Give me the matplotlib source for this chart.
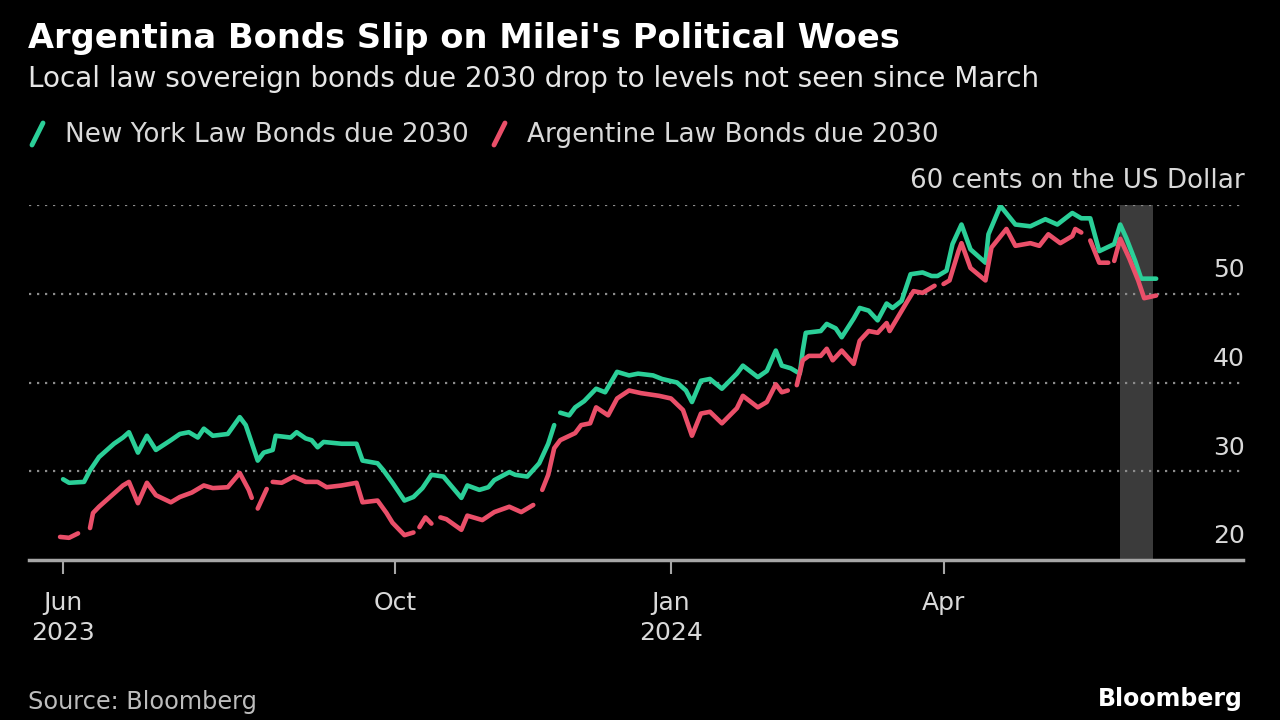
import matplotlib
matplotlib.use("Agg")
import matplotlib.pyplot as plt
import matplotlib.transforms as mtransforms
from matplotlib.lines import Line2D
import pandas as pd
import numpy as np

# ---------------- data ----------------
green_dates = [
    "2023-06-12", "2023-06-14", "2023-06-19", "2023-06-21", "2023-06-24", "2023-06-29",
    "2023-07-02", "2023-07-04", "2023-07-07", "2023-07-10", "2023-07-13", "2023-07-18",
    "2023-07-21", "2023-07-24", "2023-07-27", "2023-07-29", "2023-08-01", "2023-08-06",
    "2023-08-10", "2023-08-12", "2023-08-16", "2023-08-18", "2023-08-21", "2023-08-22",
    "2023-08-27", "2023-08-29", "2023-09-01", "2023-09-03", "2023-09-05", "2023-09-07",
    "2023-09-13", "2023-09-18", "2023-09-20", "2023-09-25", "2023-09-27", "2023-09-30",
    "2023-10-04", "2023-10-07", "2023-10-10", "2023-10-13", "2023-10-17", "2023-10-23",
    "2023-10-25", "2023-10-29", "2023-11-01", "2023-11-03", "2023-11-08", "2023-11-10",
    "2023-11-14", "2023-11-18", "2023-11-21", "2023-11-23", "2023-11-24", "2023-11-25",
    "2023-11-28", "2023-11-30", "2023-12-03", "2023-12-05", "2023-12-07", "2023-12-10",
    "2023-12-14", "2023-12-18", "2023-12-21", "2023-12-26", "2023-12-29", "2024-01-03",
    "2024-01-06", "2024-01-08", "2024-01-11", "2024-01-14", "2024-01-18", "2024-01-23",
    "2024-01-25", "2024-01-30", "2024-02-02", "2024-02-05", "2024-02-07", "2024-02-10",
    "2024-02-13", "2024-02-14", "2024-02-15", "2024-02-20", "2024-02-22", "2024-02-25",
    "2024-02-27", "2024-03-02", "2024-03-04", "2024-03-07", "2024-03-10", "2024-03-13",
    "2024-03-15", "2024-03-18", "2024-03-21", "2024-03-25", "2024-03-28", "2024-03-30",
    "2024-04-02", "2024-04-04", "2024-04-07", "2024-04-10", "2024-04-15", "2024-04-16",
    "2024-04-20", "2024-04-25", "2024-04-30", "2024-05-05", "2024-05-09", "2024-05-14",
    "2024-05-17", "2024-05-20", "2024-05-23", "2024-05-28", "2024-05-30", "2024-06-01",
    "2024-06-04", "2024-06-06", "2024-06-11",
]
green_values = [
    29.1, 28.7, 28.8, 30.1, 31.6, 33.1,
    33.8, 34.4, 32.1, 34.0, 32.4, 33.5,
    34.2, 34.4, 33.8, 34.8, 34.0, 34.2,
    36.1, 35.2, 31.2, 32.1, 32.4, 34.0,
    33.8, 34.4, 33.7, 33.5, 32.7, 33.3,
    33.1, 33.1, 31.2, 30.9, 30.1, 28.7,
    26.7, 27.1, 28.1, 29.6, 29.4, 27.0,
    28.4, 27.9, 28.2, 29.0, 29.9, 29.6,
    29.4, 30.9, 33.1, 35.2, None, 36.6,
    36.3, 37.2, 37.9, 38.6, 39.3, 38.9,
    41.2, 40.8, 41.0, 40.8, 40.4, 40.0,
    39.1, 37.8, 40.2, 40.4, 39.3, 41.0,
    41.9, 40.6, 41.3, 43.6, 41.9, 41.6,
    41.0, 43.6, 45.6, 45.8, 46.6, 46.1,
    45.1, 47.2, 48.4, 48.1, 47.0, 48.9,
    48.4, 49.2, 52.2, 52.4, 52.0, 52.0,
    52.6, 55.6, 57.8, 55.0, 53.5, 56.7,
    59.9, 57.8, 57.6, 58.4, 57.8, 59.1,
    58.5, 58.5, 54.8, 55.6, 57.8, 56.3,
    53.7, 51.7, 51.7,
]

red_dates = [
    "2023-06-11", "2023-06-14", "2023-06-17", "2023-06-19", "2023-06-21", "2023-06-22",
    "2023-06-24", "2023-06-29", "2023-07-02", "2023-07-04", "2023-07-07", "2023-07-10",
    "2023-07-13", "2023-07-18", "2023-07-21", "2023-07-25", "2023-07-29", "2023-08-01",
    "2023-08-06", "2023-08-10", "2023-08-13", "2023-08-14", "2023-08-15", "2023-08-16",
    "2023-08-19", "2023-08-20", "2023-08-21", "2023-08-24", "2023-08-28", "2023-09-01",
    "2023-09-05", "2023-09-08", "2023-09-13", "2023-09-18", "2023-09-20", "2023-09-25",
    "2023-09-28", "2023-09-30", "2023-10-04", "2023-10-07", "2023-10-08", "2023-10-09",
    "2023-10-11", "2023-10-13", "2023-10-14", "2023-10-16", "2023-10-18", "2023-10-23",
    "2023-10-25", "2023-10-30", "2023-11-03", "2023-11-08", "2023-11-12", "2023-11-16",
    "2023-11-17", "2023-11-19", "2023-11-21", "2023-11-23", "2023-11-25", "2023-11-30",
    "2023-12-02", "2023-12-05", "2023-12-07", "2023-12-11", "2023-12-14", "2023-12-18",
    "2023-12-22", "2023-12-28", "2024-01-01", "2024-01-05", "2024-01-08", "2024-01-11",
    "2024-01-14", "2024-01-18", "2024-01-23", "2024-01-25", "2024-01-30", "2024-02-02",
    "2024-02-05", "2024-02-07", "2024-02-09", "2024-02-11", "2024-02-12", "2024-02-14",
    "2024-02-16", "2024-02-20", "2024-02-22", "2024-02-24", "2024-02-27", "2024-03-02",
    "2024-03-04", "2024-03-07", "2024-03-10", "2024-03-13", "2024-03-14", "2024-03-17",
    "2024-03-20", "2024-03-22", "2024-03-25", "2024-03-28", "2024-03-29", "2024-03-30",
    "2024-04-01", "2024-04-03", "2024-04-06", "2024-04-07", "2024-04-10", "2024-04-15",
    "2024-04-17", "2024-04-22", "2024-04-25", "2024-04-30", "2024-05-03", "2024-05-06",
    "2024-05-10", "2024-05-14", "2024-05-15", "2024-05-17", "2024-05-19", "2024-05-20",
    "2024-05-23", "2024-05-26", "2024-05-27", "2024-05-28", "2024-05-30", "2024-06-02",
    "2024-06-05", "2024-06-07", "2024-06-11",
]
red_values = [
    22.6, 22.5, 23.0, None, 23.6, 25.3,
    26.0, 27.5, 28.4, 28.8, 26.4, 28.7,
    27.3, 26.5, 27.1, 27.6, 28.4, 28.1,
    28.2, 29.8, 27.9, 27.0, None, 25.8,
    28.0, None, 28.8, 28.7, 29.4, 28.8,
    28.8, 28.2, 28.4, 28.7, 26.5, 26.7,
    25.3, 24.2, 22.8, 23.1, None, 23.7,
    24.8, 24.1, None, 24.8, 24.6, 23.4,
    25.0, 24.5, 25.4, 26.0, 25.4, 26.2,
    None, 27.9, 29.6, 32.6, 33.5, 34.3,
    35.2, 35.4, 37.2, 36.3, 38.2, 39.1,
    38.8, 38.5, 38.2, 36.9, 34.0, 36.5,
    36.7, 35.4, 37.1, 38.5, 37.2, 37.8,
    39.8, 38.9, 39.1, None, 39.7, 42.5,
    43.0, 43.0, 43.8, 42.5, 43.6, 42.1,
    44.7, 45.8, 45.6, 46.7, 45.8, 47.5,
    49.2, 50.3, 50.1, 50.7, 50.9, None,
    51.1, 51.5, 54.8, 55.7, 52.9, 51.5,
    55.2, 57.3, 55.4, 55.7, 55.4, 56.7,
    55.7, 56.5, 57.3, 56.9, None, 56.0,
    53.5, 53.5, None, 53.7, 56.2, 54.0,
    51.5, 49.5, 49.8,
]

tick_dates = ["2023-06-12", "2023-10-01", "2024-01-01", "2024-04-01"]
tick_labels = ["Jun\n2023", "Oct", "Jan\n2024", "Apr"]
y_levels = [20, 30, 40, 50, 60]
y_labels = ["20", "30", "40", "50", "60 cents on the US Dollar"]
shade_start, shade_end = "2024-05-30", "2024-06-10"

title = "Argentina Bonds Slip on Milei's Political Woes"
subtitle = "Local law sovereign bonds due 2030 drop to levels not seen since March"
series_names = ["New York Law Bonds due 2030", "Argentine Law Bonds due 2030"]

# ---------------- style ----------------
GREEN = "#2bcf98"
RED = "#ea4f69"
BG = "black"
GRID = "#8c8c8c"
AXIS = "#a6a6a6"
TXT = "#d9d9d9"

plt.rcParams["font.family"] = ["DejaVu Sans"]

W, H = 1280, 720
fig = plt.figure(figsize=(W / 100, H / 100), dpi=100, facecolor=BG)
ax = fig.add_axes([29 / W, 160 / H, (1243 - 29) / W, (560 - 205) / H])
ax.set_facecolor(BG)

g_x = pd.to_datetime(green_dates)
g_y = np.array([np.nan if v is None else v for v in green_values], dtype=float)
r_x = pd.to_datetime(red_dates)
r_y = np.array([np.nan if v is None else v for v in red_values], dtype=float)

ax.axvspan(pd.Timestamp(shade_start), pd.Timestamp(shade_end), color="#3b3b3b", zorder=0.5, lw=0)
for v in y_levels[1:]:
    ax.axhline(v, color=GRID, lw=1.6, ls=(0, (1, 2.6)), zorder=1)

ax.plot(g_x, g_y, color=GREEN, lw=3.3, zorder=3, solid_joinstyle="round", solid_capstyle="round")
ax.plot(r_x, r_y, color=RED, lw=3.3, zorder=3, solid_joinstyle="round", solid_capstyle="round")

ax.set_xlim(pd.Timestamp("2023-05-31 15:00"), pd.Timestamp("2024-07-10"))
ax.set_ylim(20, 60)

for s in ["top", "left", "right"]:
    ax.spines[s].set_visible(False)
ax.spines["bottom"].set_color(AXIS)
ax.spines["bottom"].set_linewidth(2.5)
ax.spines["bottom"].set_zorder(4)

ax.set_xticks(pd.to_datetime(tick_dates))
ax.set_xticklabels(tick_labels, linespacing=1.35)
ax.tick_params(axis="x", length=10, width=1.5, color=AXIS, labelcolor=TXT,
               labelsize=18, pad=12)
ax.set_yticks([])

ytrans = mtransforms.offset_copy(ax.get_yaxis_transform(), fig=fig, x=1.5, y=12, units="points")
for v, lab in zip(y_levels, y_labels):
    ax.text(1.0, v, lab, transform=ytrans, ha="right", va="baseline",
            fontsize=18.8 if v == 60 else 18, color=TXT)

# ---------------- titles / legend ----------------
fig.text(28 / W, 1 - 48 / H, title, fontsize=24.2, fontweight="bold", color="white", va="baseline")
fig.text(28 / W, 1 - 87 / H, subtitle, fontsize=20.1, color="#e6e6e6", va="baseline")

leg_y = 1 - 142 / H
fig.add_artist(Line2D([32 / W, 43 / W], [1 - 145 / H, 1 - 123 / H], transform=fig.transFigure,
                      color=GREEN, lw=3.5, solid_capstyle="round"))
fig.text(65 / W, leg_y, series_names[0], fontsize=18.9, color=TXT, va="baseline")
fig.add_artist(Line2D([494 / W, 505 / W], [1 - 145 / H, 1 - 123 / H], transform=fig.transFigure,
                      color=RED, lw=3.5, solid_capstyle="round"))
fig.text(527 / W, leg_y, series_names[1], fontsize=18.9, color=TXT, va="baseline")

fig.text(28 / W, 1 - 709 / H, "Source: Bloomberg", fontsize=17.3, color="#bdbdbd", va="baseline")
fig.text(1243 / W, 1 - 706 / H, "Bloomberg", fontsize=17, fontweight="bold", color="white",
         va="baseline", ha="right")

fig.savefig("out.png", dpi=100, facecolor=BG)
